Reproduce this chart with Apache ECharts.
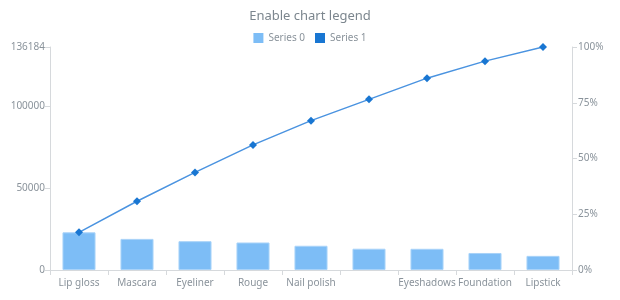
<!DOCTYPE html>
<html>
<head>
<meta charset="utf-8">
<script src="https://cdn.jsdelivr.net/npm/echarts@6/dist/echarts.min.js"></script>
<style>html,body{margin:0;padding:0;background:#fff}#c{width:620px;height:300px}</style>
</head>
<body>
<div id="c"></div>
<script>
var categories = ["Lip gloss", "Mascara", "Eyeliner", "Rouge", "Nail polish", "Eyebrow pencil", "Eyeshadows", "Foundation", "Lipstick"];
var values = [23000, 19000, 17600, 16800, 14800, 13000, 12950, 10400, 8634];
var leftTicks = [0, 50000, 100000];
var rightTicks = [0, 25, 50, 75, 100];
var hiddenLabels = ["Eyebrow pencil"];

var total = values.reduce(function (a, b) { return a + b; }, 0);
var cum = [];
var run = 0;
values.forEach(function (v) { run += v; cum.push(run / total * 100); });

var txt = '#8a939b';
var axisCol = '#d6d9dc';
var font = 'Noto Sans, DejaVu Sans, sans-serif';

var chart = echarts.init(document.getElementById('c'));
chart.setOption({
  animation: false,
  title: {
    text: 'Enable chart legend', left: 'center', top: 5,
    textStyle: { color: '#7c868e', fontSize: 13, fontWeight: 'normal', fontFamily: font }
  },
  legend: {
    top: 28, left: 'center', itemWidth: 10, itemHeight: 10, itemGap: 10,
    icon: 'rect',
    itemStyle: { borderWidth: 0 },
    textStyle: { color: txt, fontSize: 10, fontFamily: font },
    data: ['Series 0', 'Series 1']
  },
  grid: { left: 50, right: 48, top: 47, bottom: 30 },
  xAxis: {
    type: 'category', data: categories, boundaryGap: true,
    axisLine: { lineStyle: { color: axisCol } },
    axisTick: { show: true, interval: 0, length: 5, lineStyle: { color: axisCol } },
    axisLabel: {
      interval: function (i, name) { return hiddenLabels.indexOf(name) < 0; },
      color: txt, fontSize: 10, fontFamily: font, margin: 8
    }
  },
  yAxis: [{
    type: 'value', min: 0, max: total,
    axisLine: { show: true, lineStyle: { color: axisCol } },
    axisTick: { show: true, length: 5, lineStyle: { color: axisCol }, customValues: leftTicks.concat([total]) },
    axisLabel: { color: txt, fontSize: 10, fontFamily: font, margin: 5, customValues: leftTicks.concat([total]),
      formatter: function (v) { return String(Math.round(v)); } },
    splitLine: { show: false }
  }, {
    type: 'value', min: 0, max: 100, interval: 25, position: 'right',
    axisLine: { show: true, lineStyle: { color: axisCol } },
    axisTick: { show: true, length: 5, lineStyle: { color: axisCol } },
    axisLabel: { color: txt, fontSize: 10, fontFamily: font, margin: 6, formatter: '{value}%' },
    splitLine: { show: false }
  }],
  series: [{
    name: 'Series 0', type: 'bar', data: values, barWidth: '57%',
    itemStyle: { color: '#7dbdf6', borderColor: '#a9d3f9', borderWidth: 1 }
  }, {
    name: 'Series 1', type: 'line', yAxisIndex: 1, data: cum,
    symbol: 'diamond', symbolSize: 8,
    lineStyle: { color: '#4a93e0', width: 1.5 },
    itemStyle: { color: '#1976d2' }
  }]
});
</script>
</body>
</html>
